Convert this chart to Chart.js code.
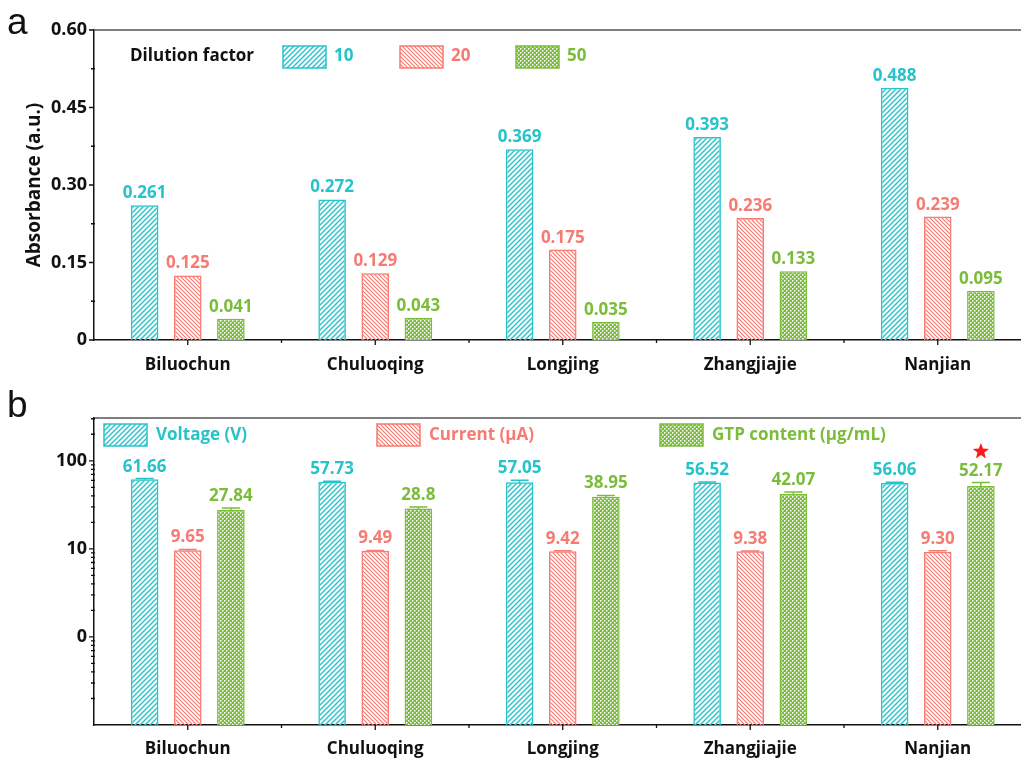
<!DOCTYPE html>
<html><head><meta charset="utf-8">
<script src="https://cdn.jsdelivr.net/npm/chart.js@4/dist/chart.umd.min.js"></script>
<style>
html,body{margin:0;padding:0;background:#fff;overflow:hidden;width:1021px;height:760px;}
#wa{position:absolute;left:0;top:0;width:1035px;height:380px;}
#wb{position:absolute;left:0;top:380px;width:1035px;height:380px;}
</style></head><body>
<div id="wa"><canvas id="ca"></canvas></div>
<div id="wb"><canvas id="cb"></canvas></div>
<script>
// ---------- data ----------
const categories = ['Biluochun','Chuluoqing','Longjing','Zhangjiajie','Nanjian'];
const dilutionTitle = 'Dilution factor';
const dilutionLabels = ['10','20','50'];
const abs10 = [0.261,0.272,0.369,0.393,0.488];
const abs20 = [0.125,0.129,0.175,0.236,0.239];
const abs50 = [0.041,0.043,0.035,0.133,0.095];
const absTicks = [0,0.15,0.30,0.45,0.60];

const seriesB = ['Voltage (V)','Current (\u03bcA)','GTP content (\u03bcg/mL)'];
const voltage = [61.66,57.73,57.05,56.52,56.06];
const voltageErr = [1.2,1.0,3.0,1.0,1.0];
const current = [9.65,9.49,9.42,9.38,9.30];
const currentErr = [0.2,0.1,0.1,0.1,0.2];
const gtp = [27.84,28.8,38.95,42.07,52.17];
const gtpErr = [1.2,1.0,1.5,2.0,4.5];
const logTicks = [1,10,100];
const logTickLabels = ['0','10','100'];
const starIndex = 4; // Nanjian GTP marked with a star

// ---------- style ----------
const FONT = '"Open Sans", sans-serif';
const C_CYAN = '#26C3CB', C_RED = '#F57B73', C_GREEN = '#7BBD3B';
const colors = [C_CYAN, C_RED, C_GREEN];

function hatch(color, s, lw, back){
  const c=document.createElement('canvas'); c.width=s; c.height=s;
  const g=c.getContext('2d'); g.strokeStyle=color; g.lineWidth=lw;
  g.beginPath();
  if(!back){ g.moveTo(-1,s+1); g.lineTo(s+1,-1); g.moveTo(-1,1); g.lineTo(1,-1); g.moveTo(s-1,s+1); g.lineTo(s+1,s-1);}
  else { g.moveTo(-1,-1); g.lineTo(s+1,s+1); g.moveTo(s-1,-1); g.lineTo(s+1,1); g.moveTo(-1,s-1); g.lineTo(1,s+1);}
  g.stroke();
  return g.createPattern(c,'repeat');
}
function mesh(color){
  const s=4; const c=document.createElement('canvas'); c.width=s; c.height=s;
  const g=c.getContext('2d'); g.fillStyle=color; g.fillRect(0,0,s,s);
  g.fillStyle='#fff'; g.fillRect(0,0,1.5,1.5); g.fillRect(2,2,1.5,1.5);
  return g.createPattern(c,'repeat');
}
const patterns = [hatch(C_CYAN,5,1.4,false), hatch(C_RED,4,1.2,true), mesh(C_GREEN)];

function ds(label, data, i){
  return {label, data, backgroundColor:patterns[i], borderColor:colors[i], borderWidth:1.5, borderSkipped:'start'};
}

function drawAxesDecor(chart, yMajor, yMinor){
  const ctx=chart.ctx, a=chart.chartArea, x=chart.scales.x, y=chart.scales.y;
  ctx.save();
  ctx.strokeStyle='#555'; ctx.lineWidth=1.5;
  ctx.beginPath(); ctx.moveTo(a.left, a.top); ctx.lineTo(chart.width, a.top); ctx.stroke();
  ctx.strokeStyle='#111'; ctx.lineWidth=1.3;
  ctx.beginPath();
  yMajor.forEach(v=>{const p=y.getPixelForValue(v); ctx.moveTo(a.left-5,p); ctx.lineTo(a.left,p);});
  yMinor.forEach(v=>{const p=y.getPixelForValue(v); ctx.moveTo(a.left-3,p); ctx.lineTo(a.left+1,p);});
  categories.forEach((c,i)=>{const p=x.getPixelForValue(i); ctx.moveTo(p,a.bottom); ctx.lineTo(p,a.bottom+5);
    const q=(x.getPixelForValue(i)+ (i<categories.length-1? x.getPixelForValue(i+1): x.getPixelForValue(i)+(x.getPixelForValue(i)-x.getPixelForValue(i-1))))/2;
    ctx.moveTo(q,a.bottom); ctx.lineTo(q,a.bottom+3);});
  ctx.stroke();
  ctx.restore();
}

function legendPatch(ctx, i, x, y){
  ctx.fillStyle=patterns[i]; ctx.fillRect(x,y,43,22);
  ctx.strokeStyle=colors[i]; ctx.lineWidth=1.5; ctx.strokeRect(x,y,43,22);
}

// ---------- chart a ----------
const decorA = {
  id:'decorA',
  afterDatasetsDraw(chart){
    const ctx=chart.ctx;
    ctx.save();
    ctx.font='bold 17px '+FONT; ctx.textAlign='center'; ctx.textBaseline='alphabetic';
    chart.data.datasets.forEach((d,i)=>{
      const meta=chart.getDatasetMeta(i);
      ctx.fillStyle=colors[i];
      meta.data.forEach((el,j)=>{ ctx.fillText(d.data[j].toFixed(3), el.x, el.y-7); });
    });
    ctx.restore();
  },
  afterDraw(chart){
    const ctx=chart.ctx, a=chart.chartArea;
    const minor=[]; for(let k=0;k<absTicks.length-1;k++) minor.push((absTicks[k]+absTicks[k+1])/2);
    drawAxesDecor(chart, absTicks, minor);
    ctx.save();
    ctx.fillStyle='#111'; ctx.font='37px "Liberation Sans", sans-serif'; ctx.textAlign='left'; ctx.textBaseline='alphabetic';
    ctx.fillText('a', 7, 34);
    ctx.save(); ctx.translate(35,(a.top+a.bottom)/2); ctx.rotate(-Math.PI/2);
    ctx.font='bold 19px '+FONT; ctx.textAlign='center'; ctx.textBaseline='middle'; ctx.fillText('Absorbance (a.u.)',0,0); ctx.restore();
    ctx.font='bold 17px '+FONT; ctx.textBaseline='middle'; ctx.textAlign='left';
    ctx.fillStyle='#111'; ctx.fillText(dilutionTitle, 130, 56);
    const px=[283,400,516];
    dilutionLabels.forEach((l,i)=>{ legendPatch(ctx,i,px[i],46); ctx.fillStyle=colors[i]; ctx.fillText(l, px[i]+51, 56); });
    ctx.restore();
  }
};

new Chart(document.getElementById('ca'), {
  type:'bar',
  data:{labels:categories, datasets:[ds(dilutionLabels[0],abs10,0), ds(dilutionLabels[1],abs20,1), ds(dilutionLabels[2],abs50,2)]},
  options:{
    responsive:true, maintainAspectRatio:false, animation:false,
    layout:{padding:{left:0,right:3.5,top:30,bottom:0}},
    datasets:{bar:{categoryPercentage:0.69, barPercentage:0.64}},
    plugins:{legend:{display:false}, tooltip:{enabled:false}},
    scales:{
      x:{grid:{display:false,drawTicks:false}, border:{display:true,color:'#111',width:1.5},
         ticks:{font:{family:FONT,size:17,weight:'bold'}, color:'#111', padding:15, maxRotation:0, autoSkip:false},
         afterFit:s=>{s.height=40;}},
      y:{min:0,max:0.6, grid:{display:false,drawTicks:false}, border:{display:true,color:'#111',width:1.5},
         afterBuildTicks:s=>{s.ticks=absTicks.map(v=>({value:v}));},
         ticks:{font:{family:FONT,size:18,weight:'bold'}, color:'#111', padding:7, callback:v=> v===0?'0':Number(v).toFixed(2)},
         afterFit:s=>{s.width=94;}}
    }
  },
  plugins:[decorA]
});

// ---------- chart b ----------
const errs=[voltageErr,currentErr,gtpErr];
function drawStar(ctx,cx,cy,R,r){
  ctx.beginPath();
  for(let k=0;k<10;k++){const ang=-Math.PI/2+k*Math.PI/5; const rr=k%2?r:R; ctx.lineTo(cx+rr*Math.cos(ang), cy+rr*Math.sin(ang));}
  ctx.closePath(); ctx.fill();
}
const decorB = {
  id:'decorB',
  afterDatasetsDraw(chart){
    const ctx=chart.ctx, y=chart.scales.y;
    ctx.save();
    chart.data.datasets.forEach((d,i)=>{
      const meta=chart.getDatasetMeta(i);
      meta.data.forEach((el,j)=>{
        const v=d.data[j], e=errs[i][j];
        const yt=y.getPixelForValue(v+e), yb=y.getPixelForValue(v-e);
        ctx.strokeStyle=colors[i]; ctx.lineWidth=1.5;
        ctx.beginPath(); ctx.moveTo(el.x,yt); ctx.lineTo(el.x,yb); ctx.moveTo(el.x-9,yt); ctx.lineTo(el.x+9,yt); ctx.stroke();
        ctx.fillStyle=colors[i]; ctx.font='bold 17px '+FONT; ctx.textAlign='center'; ctx.textBaseline='alphabetic';
        const txt = i===1 ? v.toFixed(2) : String(v);
        const by = Math.min(yt, el.y)-7;
        ctx.fillText(txt, el.x, by);
        if(i===2 && j===starIndex){ ctx.fillStyle='#FF1A1A'; drawStar(ctx, el.x, by-24, 8.5, 3.6); }
      });
    });
    ctx.restore();
  },
  afterDraw(chart){
    const ctx=chart.ctx;
    const minor=[]; [0.1,1,10,100].forEach(d=>{for(let k=2;k<=9;k++){const v=d*k; if(v<=chart.scales.y.max) minor.push(v);}});
    drawAxesDecor(chart, logTicks, minor);
    ctx.save();
    ctx.fillStyle='#111'; ctx.font='37px "Liberation Sans", sans-serif'; ctx.textAlign='left'; ctx.textBaseline='alphabetic';
    ctx.fillText('b', 7, 37);
    ctx.font='bold 17px '+FONT; ctx.textBaseline='middle';
    const px=[104,377,660];
    seriesB.forEach((l,i)=>{ legendPatch(ctx,i,px[i],44); ctx.fillStyle=colors[i]; ctx.fillText(l, px[i]+52, 55); });
    ctx.restore();
  }
};

new Chart(document.getElementById('cb'), {
  type:'bar',
  data:{labels:categories, datasets:[ds(seriesB[0],voltage,0), ds(seriesB[1],current,1), ds(seriesB[2],gtp,2)]},
  options:{
    responsive:true, maintainAspectRatio:false, animation:false,
    layout:{padding:{left:0,right:3.5,top:38,bottom:0}},
    datasets:{bar:{categoryPercentage:0.69, barPercentage:0.64}},
    plugins:{legend:{display:false}, tooltip:{enabled:false}},
    scales:{
      x:{grid:{display:false,drawTicks:false}, border:{display:true,color:'#111',width:1.5},
         ticks:{font:{family:FONT,size:17,weight:'bold'}, color:'#111', padding:14, maxRotation:0, autoSkip:false},
         afterFit:s=>{s.height=35;}},
      y:{type:'logarithmic', min:0.1, max:306, grid:{display:false,drawTicks:false}, border:{display:true,color:'#111',width:1.5},
         afterBuildTicks:s=>{s.ticks=logTicks.map(v=>({value:v}));},
         ticks:{font:{family:FONT,size:18,weight:'bold'}, color:'#111', padding:7,
                callback:v=>{const k=logTicks.indexOf(v); return k>=0?logTickLabels[k]:'';}},
         afterFit:s=>{s.width=94;}}
    }
  },
  plugins:[decorB]
});
</script>
</body></html>
